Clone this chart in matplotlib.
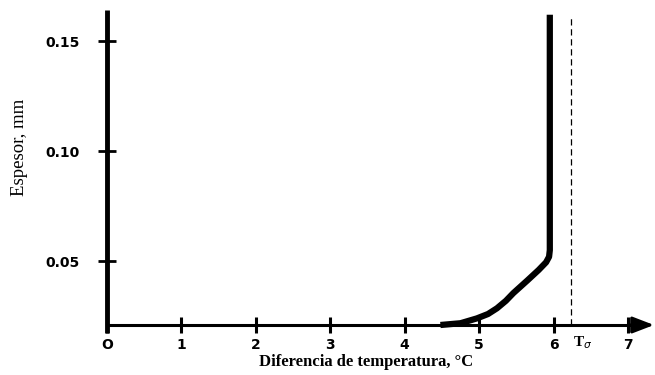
import matplotlib
matplotlib.use("Agg")
import matplotlib.pyplot as plt

# values
temp_diff = [4.48, 4.75, 4.97, 5.12, 5.24, 5.36, 5.46, 5.65, 5.80, 5.90, 5.94, 5.95, 5.95]
thickness = [0.021, 0.0218, 0.024, 0.026, 0.0286, 0.032, 0.0355, 0.0413, 0.046, 0.0495, 0.052, 0.055, 0.162]
x_ticks = [0, 1, 2, 3, 4, 5, 6, 7]
x_labels = ["O", "1", "2", "3", "4", "5", "6", "7"]
y_ticks = [0.05, 0.10, 0.15]
y_labels = ["0.05", "0.10", "0.15"]
t_sigma = 6.24

X0, X1 = 0, 7.35
Y0, Y1 = 0.021, 0.165

fig = plt.figure(figsize=(6.55, 3.75), dpi=100)
ax = fig.add_axes([107/655, 50/375, 547/655, 0.845])
ax.set_xlim(X0, X1)
ax.set_ylim(Y0, Y1)
for s in ax.spines.values():
    s.set_visible(False)

# axes drawn by hand
ax.plot([0, 0], [0.0175, 0.164], color="black", lw=3.5, clip_on=False, solid_capstyle="butt")
ax.plot([0, 7.1], [Y0, Y0], color="black", lw=2.2, clip_on=False, solid_capstyle="butt")
ax.annotate("", xy=(X1, Y0), xytext=(7.0, Y0),
            arrowprops=dict(arrowstyle="-|>,head_length=1.3,head_width=0.5",
                            color="black", lw=2.2, shrinkA=0, shrinkB=0),
            annotation_clip=False)

ax.set_xticks(x_ticks)
ax.set_xticklabels(x_labels)
ax.set_yticks(y_ticks)
ax.set_yticklabels(y_labels)
ax.tick_params(axis="x", direction="inout", length=12, width=2.2, pad=3.5)
ax.tick_params(axis="y", direction="inout", length=13, width=2, pad=13)
for lab in ax.get_xticklabels() + ax.get_yticklabels():
    lab.set_fontweight("bold")
    lab.set_fontsize(10)

ax.plot(temp_diff, thickness, color="black", lw=4.5, solid_capstyle="butt",
        solid_joinstyle="round", clip_on=False)
ax.plot([t_sigma, t_sigma], [Y0, 0.162], color="black", lw=0.9,
        linestyle=(0, (5, 3)), clip_on=False)
ax.text(t_sigma + 0.02, Y0 - 0.004, r"T$_\sigma$", fontsize=11,
        family="Liberation Serif", fontweight="bold", ha="left", va="top")

ax.set_xlabel("Diferencia de temperatura, \u00b0C", family="Liberation Serif",
              fontweight="bold", fontsize=12)
ax.xaxis.set_label_coords(3.48 / X1, -0.093)
ax.set_ylabel("Espesor, mm", family="Liberation Serif", fontsize=13.5)
ax.yaxis.set_label_coords(-0.145, 0.56)

fig.savefig("out.png", dpi=100)
